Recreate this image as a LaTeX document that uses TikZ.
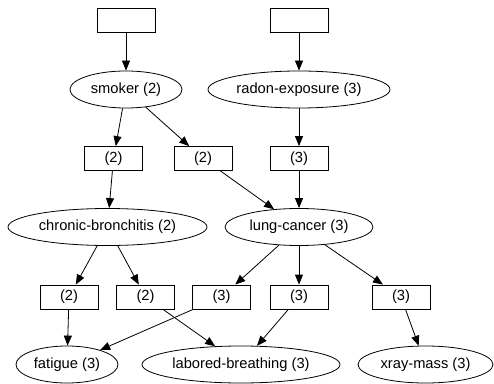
\documentclass[tikz,border=0pt]{standalone}
\usepackage{fontspec}
\setmainfont{Liberation Sans}
\usetikzlibrary{shapes.geometric, arrows.meta}
\newcommand{\unitsize}{1pt}

\begin{document}
\begin{tikzpicture}
\useasboundingbox (0*\unitsize,0*\unitsize) rectangle (494*\unitsize,383*\unitsize);
\tikzstyle{every node}=[draw,
                        inner sep=0pt,
                        line width=0.8pt,
                        font=\fontsize{14.7}{17}\selectfont
                        ]
\tikzstyle{factor}=[rectangle, minimum width=58*\unitsize, minimum height=24*\unitsize]
\tikzstyle{var}=[ellipse, minimum height=37*\unitsize]
\tikzstyle{edge}=[line width=0.8pt, -{Triangle[length=10pt,width=8pt]}]
% priors
\node[factor] (prior1) at (126*\unitsize,363*\unitsize) {};
\node[factor] (prior2) at (299*\unitsize,363*\unitsize) {};
% root variables
\node[var, minimum width=112*\unitsize] (smoker) at (126*\unitsize,293.5*\unitsize) {smoker (2)};
\node[var, minimum width=182*\unitsize] (radon) at (299*\unitsize,293.5*\unitsize) {radon-exposure (3)};
% middle factors
\node[factor] (f1) at (113.5*\unitsize,224.5*\unitsize) {(2)};
\node[factor] (f2) at (203*\unitsize,224.5*\unitsize) {(2)};
\node[factor] (f3) at (299*\unitsize,224.5*\unitsize) {(3)};
% middle variables
\node[var, minimum width=199*\unitsize] (bronchitis) at (107.5*\unitsize,156*\unitsize) {chronic-bronchitis (2)};
\node[var, minimum width=148*\unitsize] (cancer) at (299*\unitsize,156*\unitsize) {lung-cancer (3)};
% lower factors
\node[factor] (f4) at (69*\unitsize,86*\unitsize) {(2)};
\node[factor] (f5) at (145.5*\unitsize,86*\unitsize) {(2)};
\node[factor] (f6) at (221.5*\unitsize,86*\unitsize) {(3)};
\node[factor] (f7) at (299*\unitsize,86*\unitsize) {(3)};
\node[factor] (f8) at (401*\unitsize,86*\unitsize) {(3)};
% symptoms
\node[var, minimum width=102*\unitsize] (fatigue) at (67*\unitsize,18.5*\unitsize) {fatigue (3)};
\node[var, minimum width=198*\unitsize] (breathing) at (241*\unitsize,18.5*\unitsize) {labored-breathing (3)};
\node[var, minimum width=135*\unitsize] (xray) at (425.5*\unitsize,18.5*\unitsize) {xray-mass (3)};

\draw[edge] (prior1) -- (smoker);
\draw[edge] (prior2) -- (radon);
\draw[edge] (smoker) -- (f1);
\draw[edge] (smoker) -- (f2);
\draw[edge] (radon) -- (f3);
\draw[edge] (f1) -- (bronchitis);
\draw[edge] (f2) -- (cancer);
\draw[edge] (f3) -- (cancer);
\draw[edge] (bronchitis) -- (f4);
\draw[edge] (bronchitis) -- (f5);
\draw[edge] (cancer) -- (f6);
\draw[edge] (cancer) -- (f7);
\draw[edge] (cancer) -- (f8);
\draw[edge] (f4) -- (fatigue);
\draw[edge] (f6) -- (fatigue);
\draw[edge] (f5) -- (breathing);
\draw[edge] (f7) -- (breathing);
\draw[edge] (f8) -- (xray);
\end{tikzpicture}
\end{document}
